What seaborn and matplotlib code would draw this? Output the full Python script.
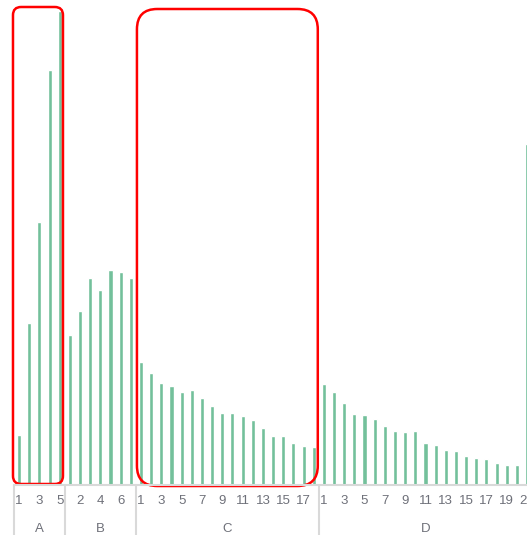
import pandas as pd
import seaborn as sns
import matplotlib.pyplot as plt
from matplotlib.patches import FancyBboxPatch
from matplotlib.transforms import blended_transform_factory

# Données (hauteur des barres par groupe)
groups = ['A', 'B', 'C', 'D']
values_a = [50, 162, 263, 415, 474]
values_b = [150, 174, 207, 195, 215, 213, 207]
values_c = [123, 112, 102, 99, 93, 95, 87, 79, 72, 72, 69, 65, 57, 49, 49, 42, 39, 38]
values_d = [101, 93, 82, 71, 70, 66, 59, 54, 53, 54, 42, 40, 35, 34, 29, 27, 26, 22, 20, 20, 341]

series = [values_a, values_b, values_c, values_d]

# Table longue : une ligne par barre
rows = []
for g, vals in zip(groups, series):
    for i, v in enumerate(vals, start=1):
        rows.append({'group': g, 'item': i, 'key': f'{g}{i}', 'value': v})
data = pd.DataFrame(rows)

sns.set_style('white')
plt.rcParams['font.family'] = ['Liberation Sans', 'DejaVu Sans']
bar_color = '#73c09b'
axis_gray = '#d9d9d9'
text_gray = '#6e7079'

W, H = 527, 535
fig = plt.figure(figsize=(W / 100, H / 100), dpi=100)
n = len(data)
step = 10.16
left_px, base_px = 14, 485
ax = fig.add_axes([left_px / W, (H - base_px) / H, n * step / W, base_px / H])

sns.barplot(data=data, x='key', y='value', order=list(data['key']),
            color=bar_color, width=0.4, saturation=1, ax=ax)

ax.set_xlim(-0.5, n - 0.5)
ax.set_ylim(0, base_px)
ax.set_xlabel('')
ax.set_ylabel('')
ax.set_yticks([])
for s in ['top', 'right', 'left']:
    ax.spines[s].set_visible(False)
ax.spines['bottom'].set_color(axis_gray)
ax.spines['bottom'].set_linewidth(1.5)

# Étiquettes : une sur deux
ticks = list(range(0, n, 2))
ax.set_xticks(ticks)
ax.set_xticklabels([str(data['item'][t]) for t in ticks], color=text_gray, fontsize=9.5)
ax.tick_params(axis='x', length=0, pad=7.5)

# Séparateurs de groupes et noms des groupes
trans = blended_transform_factory(ax.transData, ax.transAxes)
start = 0
for g, vals in zip(groups, series):
    ax.plot([start - 0.5, start - 0.5], [0, -0.11], transform=trans,
            color=axis_gray, lw=1.5, clip_on=False)
    ax.text(start + (len(vals) - 1) / 2, -0.09, g, transform=trans,
            ha='center', va='center', color=text_gray, fontsize=9.5)
    start += len(vals)

# Cadres rouges arrondis
for x0, x1, y0, y1, r in [(-0.6, 4.32, 1, 478, 0.8), (11.6, 29.4, -1, 476, 2.0)]:
    box = FancyBboxPatch((x0, y0), x1 - x0, y1 - y0,
                         boxstyle=f'round,pad=0,rounding_size={r}',
                         mutation_aspect=step, fill=False,
                         edgecolor='#ff0000', lw=1.8, clip_on=False)
    ax.add_patch(box)

plt.savefig('out.png', dpi=100)
